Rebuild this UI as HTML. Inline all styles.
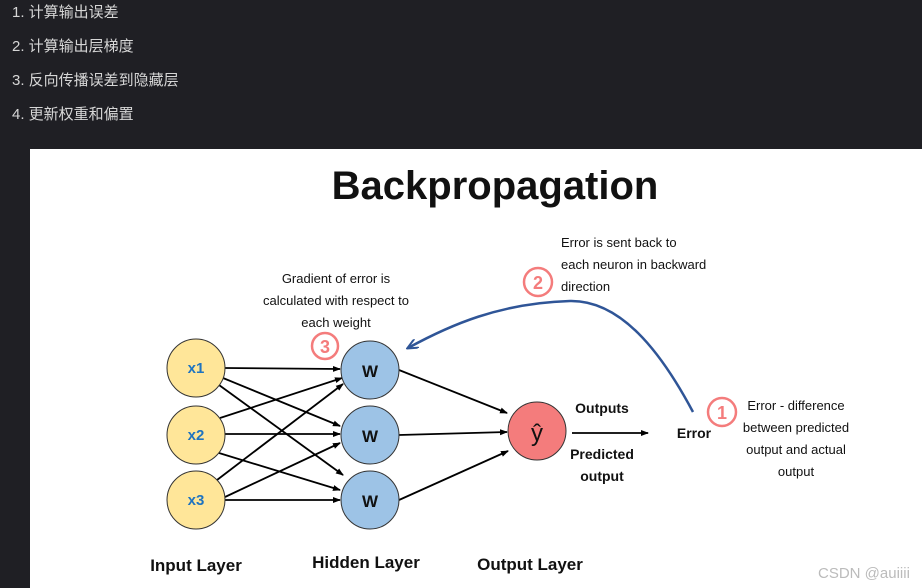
<!DOCTYPE html>
<html><head><meta charset="utf-8"><style>
body{margin:0;width:922px;height:588px;background:#1f1f24;overflow:hidden;position:relative;font-family:"Liberation Sans","Noto Sans CJK SC",sans-serif}
.li{position:absolute;left:12px;color:#d6d6d6;font-size:15px}
svg{position:absolute;left:0;top:0}
</style></head><body>
<div class="li" style="top:1px">1. 计算输出误差</div>
<div class="li" style="top:35px">2. 计算输出层梯度</div>
<div class="li" style="top:69px">3. 反向传播误差到隐藏层</div>
<div class="li" style="top:103px">4. 更新权重和偏置</div>
<svg width="922" height="588" viewBox="0 0 922 588" font-family="Liberation Sans, sans-serif">
<defs><marker id="a" markerWidth="8" markerHeight="8" refX="7" refY="4" orient="auto" markerUnits="userSpaceOnUse"><path d="M0,1 L8,4 L0,7z" fill="#000"/></marker>
<marker id="b" markerWidth="12" markerHeight="10" refX="10" refY="5" orient="auto" markerUnits="userSpaceOnUse"><path d="M0,0 L11,5 L0,10" fill="none" stroke="#2f5597" stroke-width="2"/></marker></defs>
<rect x="30" y="149" width="892" height="439" fill="#fff"/>
<text x="495" y="199" text-anchor="middle" font-size="40" font-weight="bold" fill="#111">Backpropagation</text>
<g stroke="#000" stroke-width="1.8" marker-end="url(#a)">
<line x1="225" y1="368" x2="340" y2="369"/><line x1="223" y1="378" x2="340" y2="426"/><line x1="219" y1="385" x2="343" y2="475"/>
<line x1="220" y1="418" x2="342" y2="378"/><line x1="225" y1="434" x2="340" y2="434"/><line x1="219" y1="453" x2="340" y2="490"/>
<line x1="217" y1="480" x2="343" y2="384"/><line x1="225" y1="497" x2="340" y2="443"/><line x1="225" y1="500" x2="340" y2="500"/>
<line x1="399" y1="370" x2="507" y2="413"/><line x1="399" y1="435" x2="507" y2="432"/><line x1="399" y1="500" x2="508" y2="451"/>
<line x1="572" y1="433" x2="648" y2="433"/>
</g>
<g stroke="#333" stroke-width="1">
<circle cx="196" cy="368" r="29" fill="#ffe699"/><circle cx="196" cy="435" r="29" fill="#ffe699"/><circle cx="196" cy="500" r="29" fill="#ffe699"/>
<circle cx="370" cy="370" r="29" fill="#9dc3e6"/><circle cx="370" cy="435" r="29" fill="#9dc3e6"/><circle cx="370" cy="500" r="29" fill="#9dc3e6"/>
<circle cx="537" cy="431" r="29" fill="#f47c7c"/>
</g>
<g font-weight="bold" font-size="15" fill="#1f74c0" text-anchor="middle"><text x="196" y="373">x1</text><text x="196" y="440">x2</text><text x="196" y="505">x3</text></g>
<g font-weight="bold" font-size="17" fill="#111" text-anchor="middle"><text x="370" y="377">W</text><text x="370" y="442">W</text><text x="370" y="507">W</text><text x="537" y="441" font-size="24" font-weight="normal">ŷ</text></g>
<path d="M693,412 C660,350 620,300 570,301 C500,303 450,325 408,348" fill="none" stroke="#2f5597" stroke-width="2.5" marker-end="url(#b)"/>
<g fill="#fff" stroke="#f47c7c" stroke-width="2.5"><circle cx="538" cy="282" r="14"/><circle cx="325" cy="346" r="13"/><circle cx="722" cy="412" r="14"/></g>
<g fill="#f47c7c" font-weight="bold" font-size="18" text-anchor="middle"><text x="538" y="289">2</text><text x="325" y="353">3</text><text x="722" y="419">1</text></g>
<g font-size="13" fill="#111" text-anchor="middle">
<text x="336" y="283">Gradient of error is</text><text x="336" y="305">calculated with respect to</text><text x="336" y="327">each weight</text>
<text x="561" y="247" text-anchor="start">Error is sent back to</text><text x="561" y="269" text-anchor="start">each neuron in backward</text><text x="561" y="291" text-anchor="start">direction</text>
<text x="796" y="410">Error - difference</text><text x="796" y="432">between predicted</text><text x="796" y="454">output and actual</text><text x="796" y="476">output</text>
</g>
<g font-size="14" font-weight="bold" fill="#111" text-anchor="middle">
<text x="602" y="413">Outputs</text><text x="602" y="459">Predicted</text><text x="602" y="481">output</text><text x="694" y="438">Error</text>
</g>
<g font-size="17" font-weight="bold" fill="#111" text-anchor="middle"><text x="196" y="571">Input Layer</text><text x="366" y="568">Hidden Layer</text><text x="530" y="570">Output Layer</text></g>
<text x="818" y="578" font-size="15" fill="#bbb">CSDN @auiiii</text>
</svg>
</body></html>
